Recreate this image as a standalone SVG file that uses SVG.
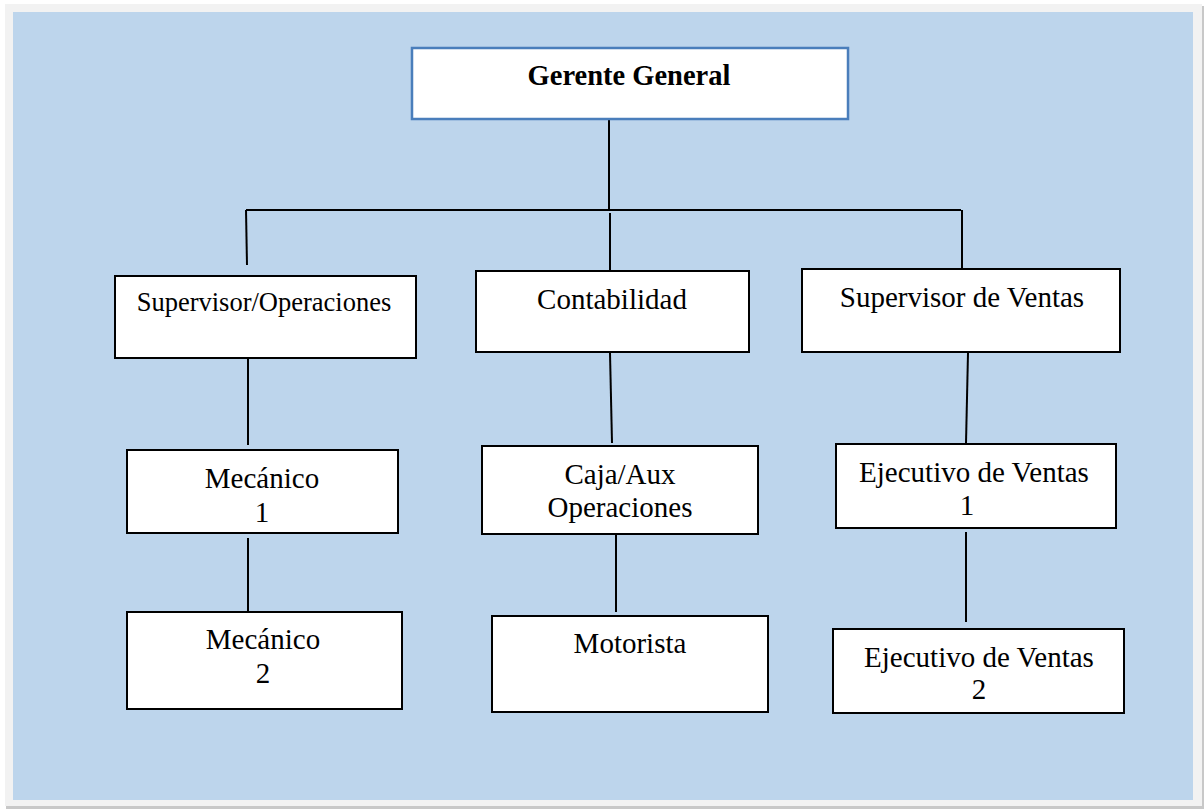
<svg xmlns="http://www.w3.org/2000/svg" width="1204" height="809" viewBox="0 0 1204 809">
<style>
.box{fill:#ffffff;stroke:#000000;stroke-width:2}
.top{fill:#ffffff;stroke:#4a7ebb;stroke-width:2.5}
.t{font-family:"Liberation Serif","Times New Roman",serif;font-size:29px;fill:#000000;text-anchor:middle}
.b{font-weight:bold;font-size:28.5px}
.s{font-size:26.5px}
.c line{stroke:#000000;stroke-width:2;fill:none}
</style>
<rect x="0" y="0" width="1204" height="809" fill="#ffffff"/>
<rect x="6" y="6" width="1198" height="803" fill="#c8c8c8"/>
<rect x="5" y="4" width="1197" height="802" fill="#f2f2f2"/>
<rect x="13" y="12" width="1180" height="788" fill="#bdd5ec"/>
<g id="connectors" class="c">
<line x1="609" y1="120" x2="609" y2="210"/>
<line x1="246" y1="210" x2="961" y2="210"/>
<line x1="246" y1="210" x2="247" y2="265"/>
<line x1="610" y1="213" x2="610" y2="271"/>
<line x1="962" y1="210" x2="962" y2="269"/>
<line x1="248" y1="359" x2="248" y2="445"/>
<line x1="248" y1="538" x2="248" y2="611"/>
<line x1="610" y1="353" x2="612" y2="443"/>
<line x1="616" y1="535" x2="616" y2="612"/>
<line x1="968" y1="353" x2="966" y2="443"/>
<line x1="966" y1="532" x2="966" y2="622"/>
</g>
<g id="gerente">
<rect class="top" x="412" y="48" width="436" height="71"/>
<text class="t b" x="629" y="85">Gerente General</text>
</g>
<g id="supervisor-operaciones">
<rect class="box" x="115" y="276" width="301" height="82"/>
<text class="t s" x="264" y="311">Supervisor/Operaciones</text>
</g>
<g id="contabilidad">
<rect class="box" x="476" y="271" width="273" height="81"/>
<text class="t" x="612" y="309">Contabilidad</text>
</g>
<g id="supervisor-ventas">
<rect class="box" x="802" y="269" width="318" height="83"/>
<text class="t" x="962" y="307">Supervisor de Ventas</text>
</g>
<g id="mecanico1">
<rect class="box" x="127" y="450" width="271" height="83"/>
<text class="t" x="262" y="488">Mecánico</text>
<text class="t" x="262" y="522">1</text>
</g>
<g id="mecanico2">
<rect class="box" x="127" y="612" width="275" height="97"/>
<text class="t" x="263" y="649">Mecánico</text>
<text class="t" x="263" y="683">2</text>
</g>
<g id="caja">
<rect class="box" x="482" y="446" width="276" height="88"/>
<text class="t" x="620" y="484">Caja/Aux</text>
<text class="t" x="620" y="517">Operaciones</text>
</g>
<g id="motorista">
<rect class="box" x="492" y="616" width="276" height="96"/>
<text class="t" x="630" y="653">Motorista</text>
</g>
<g id="ejecutivo1">
<rect class="box" x="836" y="444" width="280" height="84"/>
<text class="t" x="974" y="482">Ejecutivo de Ventas</text>
<text class="t" x="967" y="515">1</text>
</g>
<g id="ejecutivo2">
<rect class="box" x="833" y="629" width="291" height="84"/>
<text class="t" x="979" y="667">Ejecutivo de Ventas</text>
<text class="t" x="979" y="699">2</text>
</g>
</svg>
